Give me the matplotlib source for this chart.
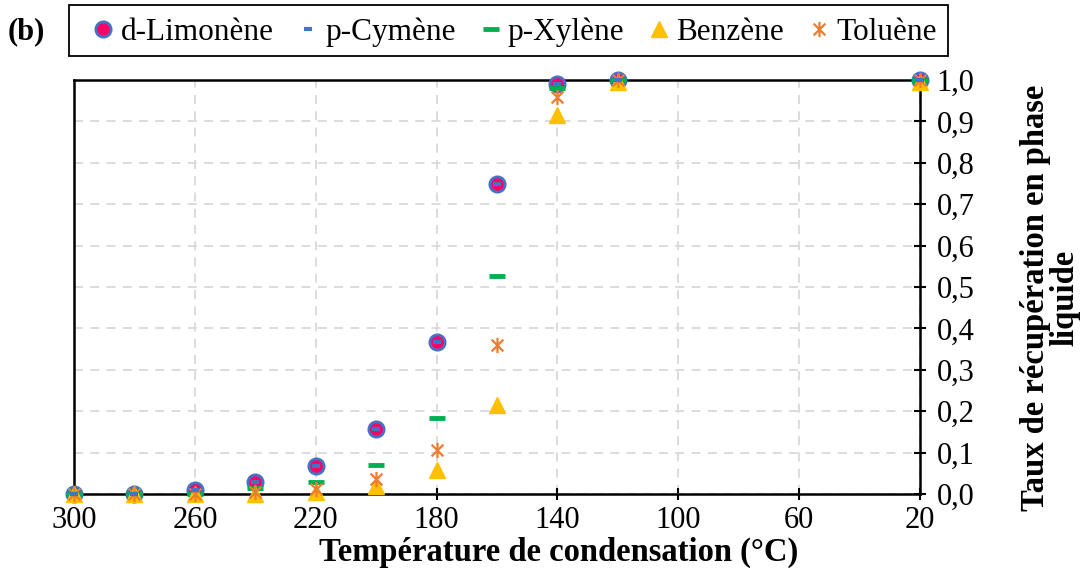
import numpy as np
import matplotlib.pyplot as plt
from matplotlib.path import Path
from matplotlib.patches import Rectangle

plt.rcParams['font.family'] = ['Liberation Serif', 'DejaVu Serif']

# Condensation temperatures (°C) and recovery rates in liquid phase
temp = [300, 280, 260, 240, 220, 200, 180, 160, 140, 120, 20]
limonene = [0.0, 0.0, 0.01, 0.03, 0.068, 0.158, 0.367, 0.749, 0.99, 1.0, 1.0]
cymene = [0.0, 0.0, 0.01, 0.03, 0.068, 0.158, 0.367, 0.749, 0.99, 1.0, 1.0]
xylene = [0.0, 0.0, 0.0, 0.015, 0.03, 0.07, 0.184, 0.527, 0.98, 1.0, 1.0]
benzene = [0.0, 0.0, 0.0, 0.0, 0.005, 0.02, 0.058, 0.215, 0.915, 0.995, 0.995]
toluene = [0.0, 0.0, 0.0, 0.005, 0.012, 0.036, 0.106, 0.36, 0.96, 1.0, 1.0]

xticks = [300, 260, 220, 180, 140, 100, 60, 20]
yticks = np.arange(0, 1.01, 0.1)

# Excel-style star: an x with a vertical bar
star = Path([(-1, -1), (1, 1), (-1, 1), (1, -1), (0, -1.3), (0, 1.3)],
            [Path.MOVETO, Path.LINETO, Path.MOVETO, Path.LINETO, Path.MOVETO, Path.LINETO])

fig = plt.figure(figsize=(10.84, 5.74), dpi=100)
ax = fig.add_axes([0.0683, 0.1394, 0.7804, 0.7212])

ax.plot(temp, limonene, 'o', ms=11, mfc='#FF0066', mec='#4472C4', mew=2,
        ls='none', label='d-Limonène', clip_on=False, zorder=3)
ax.plot(temp, cymene, '_', ms=6, mec='#4472C4', mew=3, ls='none',
        label='p-Cymène', clip_on=False, zorder=4)
ax.plot(temp, xylene, '_', ms=11, mec='#00B050', mew=3.5, ls='none',
        label='p-Xylène', clip_on=False, zorder=3)
ax.plot(temp, benzene, '^', ms=11, mfc='#FFC000', mec='#FFC000', ls='none',
        label='Benzène', clip_on=False, zorder=3)
ax.plot(temp, toluene, marker=star, ms=11, mec='#ED7D31', mfc='none', mew=1.6,
        ls='none', label='Toluène', clip_on=False, zorder=3)

ax.set_xlim(300, 20)
ax.set_ylim(0, 1)
ax.set_xticks(xticks)
ax.set_yticks(yticks)
ax.set_yticklabels([f'{v:.1f}'.replace('.', ',') for v in yticks])
ax.yaxis.tick_right()
ax.yaxis.set_label_position('right')
ax.tick_params(axis='both', labelsize=22, direction='inout', length=8, width=1.5)
ax.tick_params(axis='x', pad=5)
ax.tick_params(axis='y', pad=8)
ax.grid(True, ls=(0, (5, 4)), color='#D9D9D9', lw=1.3)
ax.set_axisbelow(True)
for s in ax.spines.values():
    s.set_linewidth(1.8)

ax.set_xlabel('Température de condensation (°C)', fontsize=23.5, fontweight='bold', labelpad=1)
ax.xaxis.label.set_x(0.573)
ax.set_ylabel('Taux de récupération en phase\nliquide', fontsize=23.5, fontweight='bold',
              labelpad=33, linespacing=0.9)
ax.yaxis.label.set_y(0.473)

leg = ax.legend(loc='center', bbox_to_anchor=(0.476, 0.944), bbox_transform=fig.transFigure,
                ncol=5, fontsize=22.5, frameon=False, handlelength=0.5,
                handletextpad=0.3, columnspacing=0.86, borderpad=0, borderaxespad=0)
fig.patches.append(Rectangle((69 / 1084, 1 - 56 / 574), 879 / 1084, 51 / 574,
                             transform=fig.transFigure, fill=False, ec='black', lw=1.3))

fig.text(0.007, 0.945, '(b)', fontsize=22, fontweight='bold', va='center')

plt.savefig('out.png', dpi=100)
